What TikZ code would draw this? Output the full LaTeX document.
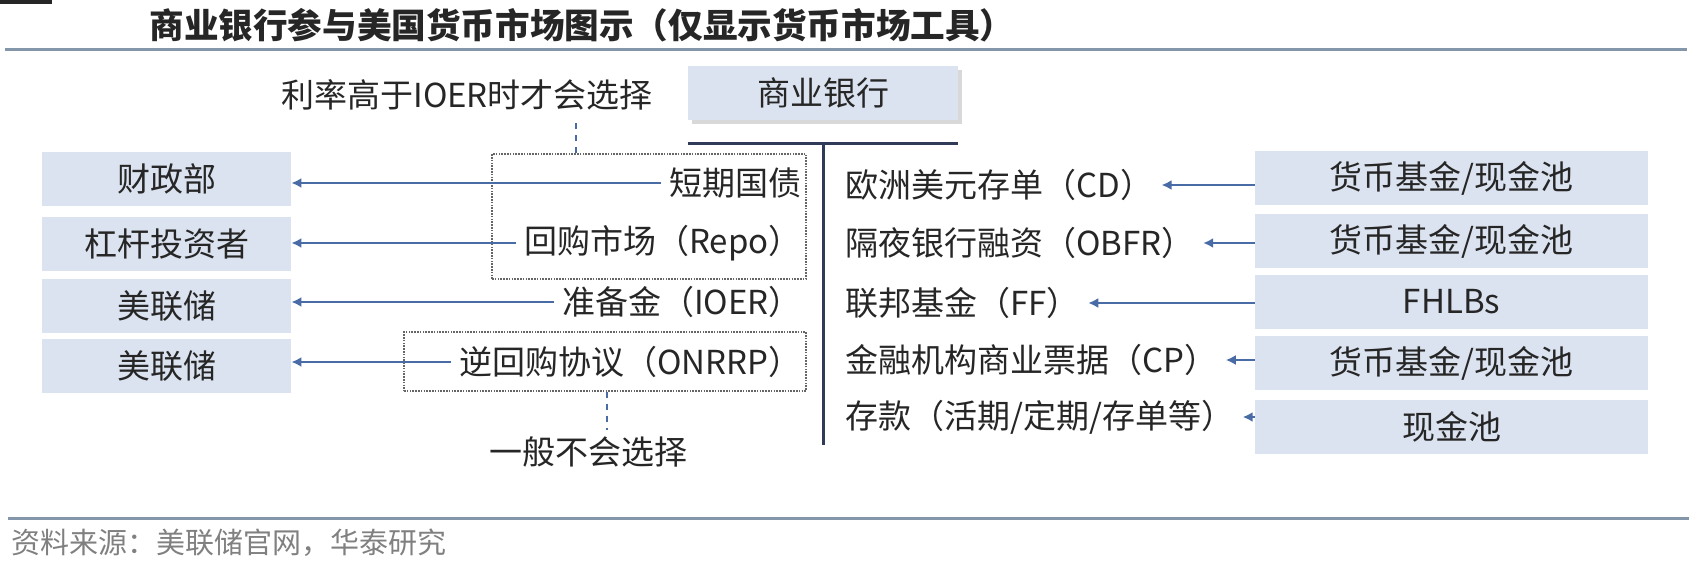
\documentclass[tikz,border=0pt]{standalone}
\usepackage{fontspec}
\setmainfont{Noto Sans CJK SC}
\usetikzlibrary{
  arrows.meta,
  positioning,
  shadows,
}
\definecolor{boxfill}{HTML}{DCE3F0}
\definecolor{arrowblue}{HTML}{4A6CA6}
\definecolor{navy}{HTML}{2F3B57}
\definecolor{rulegray}{HTML}{8496AA}
\definecolor{txt}{HTML}{262626}
\tikzset{
  >={Latex[length=5pt,width=5pt]},
  every node/.style={font=\fontsize{16.5}{18}\selectfont, text=txt},
  partybox/.style={rectangle,fill=boxfill,minimum height=27pt,inner sep=0pt},
  leftbox/.style={partybox,minimum width=124.5pt},
  rightbox/.style={partybox,minimum width=196.5pt},
  tool/.style={inner sep=4pt},
  arr/.style={->,arrowblue,line width=1.3pt},
  dotbox/.style={draw=gray!80!black,dash pattern=on 0.8pt off 0.6pt,line width=0.7pt,inner sep=0pt},
  dashline/.style={arrowblue,dashed,line width=0.9pt},
  trunk/.style={navy,line width=1.5pt},
  rulebar/.style={rulegray,line width=1.5pt},
}

\begin{document}
\begin{tikzpicture}[x=0.5pt,y=-0.5pt]
        \useasboundingbox (0,0) rectangle (1689,567);
        \fill[txt] (0,0) rectangle (52,4);

        \node[anchor=west,inner sep=0pt,font=\fontsize{17.3}{19}\selectfont\bfseries] (title) at (149,25) {商业银行参与美国货币市场图示（仅显示货币市场工具）};
        \draw[rulebar] (5,50) -- (1687,50);

        \node[partybox,minimum width=135pt,drop shadow={shadow xshift=2pt,shadow yshift=-2pt,fill=black!30}] (bank) at (823,93) {商业银行};
        \node[anchor=east] (noteA) at (660,95) {利率高于IOER时才会选择};

        \node[leftbox] (treasury) at (166.5,179) {财政部};
        \node[leftbox] (levinv)   at (166.5,244) {杠杆投资者};
        \node[leftbox] (fed1)     at (166.5,306) {美联储};
        \node[leftbox] (fed2)     at (166.5,366) {美联储};

        \node[dotbox,minimum width=157pt,minimum height=62.5pt] (repobox)  at (649,216.5) {};
        \node[dotbox,minimum width=201pt,minimum height=29.5pt] (onrrpbox) at (605,361.5) {};

        \node[tool,anchor=east] (bills) at (810,183) {短期国债};
        \node[tool,anchor=east] (repo)  at (810,243) {回购市场（Repo）};
        \node[tool,anchor=east] (ioer)  at (810,302) {准备金（IOER）};
        \node[tool,anchor=east] (onrrp) at (810,362) {逆回购协议（ONRRP）};

        \draw[arr] (bills.west) -- (bills.west -| treasury.east);
        \draw[arr] (repo.west)  -- (repo.west -| levinv.east);
        \draw[arr] (ioer.west)  -- (ioer.west -| fed1.east);
        \draw[arr] (onrrp.west) -- (onrrp.west -| fed2.east);

        \draw[dashline] ([xshift=-36.5pt]repobox.north) -- ++(0,-34);
        \draw[dashline] ([xshift=1pt]onrrpbox.south) -- ++(0,38);
        \node (noteB) at (588,452) {一般不会选择};

        \draw[trunk] ([yshift=-11.5pt]bank.south west) -- ([yshift=-11.5pt]bank.south east);
        \draw[trunk] ([yshift=-11.5pt]bank.south) -- ++(0,302);

        \node[tool,anchor=west] (cd)      at (837,185) {欧洲美元存单（CD）};
        \node[tool,anchor=west] (obfr)    at (837,243) {隔夜银行融资（OBFR）};
        \node[tool,anchor=west] (ff)      at (837,303) {联邦基金（FF）};
        \node[tool,anchor=west] (cp)      at (837,360) {金融机构商业票据（CP）};
        \node[tool,anchor=west] (deposit) at (837,417) {存款（活期/定期/存单等）};

        \node[rightbox] (mmf1)     at (1451.5,178) {货币基金/现金池};
        \node[rightbox] (mmf2)     at (1451.5,241) {货币基金/现金池};
        \node[rightbox] (fhlb)     at (1451.5,302) {FHLBs};
        \node[rightbox] (mmf3)     at (1451.5,363) {货币基金/现金池};
        \node[rightbox] (cashpool) at (1451.5,427) {现金池};

        \draw[arr] (mmf1.west |- cd.east)          -- (cd.east);
        \draw[arr] (mmf2.west |- obfr.east)        -- (obfr.east);
        \draw[arr] (fhlb.west |- ff.east)          -- (ff.east);
        \draw[arr] (mmf3.west |- cp.east)          -- (cp.east);
        \draw[arr] (cashpool.west |- deposit.east) -- (deposit.east);

        \draw[rulebar] (8,518) -- (1689,518);
        \node[anchor=west,inner sep=0pt,text=gray,font=\fontsize{14.5}{16}\selectfont] (source) at (11,543) {资料来源：美联储官网，华泰研究};

      \end{tikzpicture}
\end{document}
